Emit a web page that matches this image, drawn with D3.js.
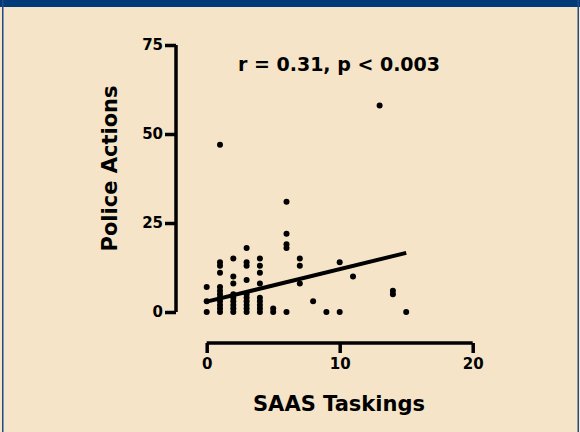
<!DOCTYPE html>
<html>
<head>
<meta charset="utf-8">
<script src="https://cdn.jsdelivr.net/npm/d3@7"></script>
<style>
  html, body { margin: 0; padding: 0; background: #F5E4C7; }
  svg { display: block; }
  text { font-family: "DejaVu Sans", "Liberation Sans", Arial, sans-serif; font-weight: bold; fill: #000; }
</style>
</head>
<body>
<div id="chart"></div>
<script>
// SAAS Taskings (x) vs Police Actions (y)
const taskings = [
  0, 0, 0,
  1, 1, 1, 1, 1, 1, 1, 1, 1, 1, 1, 1,
  2, 2, 2, 2, 2, 2, 2, 2, 2,
  3, 3, 3, 3, 3, 3, 3, 3, 3, 3,
  4, 4, 4, 4, 4, 4, 4, 4, 4,
  5, 5,
  6, 6, 6, 6, 6,
  7, 7, 7,
  8, 9, 10, 10, 11, 13, 14, 14, 15
];
const policeActions = [
  0, 3, 7,
  0, 1, 2, 3, 4, 5, 6, 7, 11, 13, 14, 47,
  0, 1, 2, 3, 4, 5, 8, 10, 15,
  0, 1, 2, 3, 4, 5, 9, 13, 14, 18,
  0, 1, 2, 3, 4, 8, 11, 13, 15,
  0, 1,
  0, 18, 19, 22, 31,
  8, 13, 15,
  3, 0, 0, 14, 10, 58, 5, 6, 0
];
// regression line end points (x, y)
const fitX = [0, 15];
const fitY = [2.9, 16.6];
const xTicks = [0, 10, 20];
const yTicks = [0, 25, 50, 75];
const xLabel = "SAAS Taskings";
const yLabel = "Police Actions";
const statsLabel = "r = 0.31, p < 0.003";

const W = 580, H = 432;
const FONT = "DejaVu Sans, Liberation Sans, Arial, sans-serif";
const svg = d3.select("#chart").append("svg").attr("width", W).attr("height", H);

svg.append("rect").attr("x", 0).attr("y", 0).attr("width", W).attr("height", H).attr("fill", "#F5E4C7");
// frame
svg.append("rect").attr("x", 0).attr("y", 0).attr("width", W).attr("height", 7).attr("fill", "#003A78");
svg.append("rect").attr("x", 2).attr("y", 0).attr("width", 1.5).attr("height", H).attr("fill", "#1F4A86");
svg.append("rect").attr("x", W - 2.5).attr("y", 0).attr("width", 1.5).attr("height", H).attr("fill", "#1F4A86");

const x = d3.scaleLinear().domain([0, 20]).range([206.7, 472.7]);
const y = d3.scaleLinear().domain([0, 75]).range([312, 45]);

// y axis
const yAxisG = svg.append("g").attr("transform", "translate(176,0)")
  .call(d3.axisLeft(y).tickValues(yTicks).tickSize(11).tickPadding(2).tickFormat(d3.format("d")));
yAxisG.select(".domain").attr("d", `M0,${y(0)}V${y(75)}`).attr("stroke", "#000").attr("stroke-width", 3.5);
yAxisG.selectAll(".tick line").attr("stroke", "#000").attr("stroke-width", 3.5);
yAxisG.selectAll(".tick text").attr("font-size", 15)
  .attr("font-family", FONT).attr("font-weight", "bold").attr("fill", "#000");

// x axis
const xAxisG = svg.append("g").attr("transform", "translate(0,343)")
  .call(d3.axisBottom(x).tickValues(xTicks).tickSize(10).tickPadding(5).tickFormat(d3.format("d")));
xAxisG.select(".domain").attr("d", `M${x(0)},0H${x(20)}`).attr("stroke", "#000").attr("stroke-width", 3.5);
xAxisG.selectAll(".tick line").attr("stroke", "#000").attr("stroke-width", 3.5);
xAxisG.selectAll(".tick text").attr("font-size", 15)
  .attr("font-family", FONT).attr("font-weight", "bold").attr("fill", "#000");

// points
svg.append("g").selectAll("circle")
  .data(taskings.map((t, i) => [t, policeActions[i]]))
  .join("circle")
  .attr("cx", d => x(d[0]))
  .attr("cy", d => y(d[1]))
  .attr("r", 3)
  .attr("fill", "#000");

// regression line
svg.append("line")
  .attr("x1", x(fitX[0])).attr("y1", y(fitY[0]))
  .attr("x2", x(fitX[1])).attr("y2", y(fitY[1]))
  .attr("stroke", "#000").attr("stroke-width", 4);

// labels
svg.append("text").attr("x", 339).attr("y", 71).attr("text-anchor", "middle")
  .attr("font-size", 19).text(statsLabel);
svg.append("text").attr("x", 339).attr("y", 411).attr("text-anchor", "middle")
  .attr("font-size", 21).text(xLabel);
svg.append("text").attr("transform", "translate(117,168.5) rotate(-90)").attr("text-anchor", "middle")
  .attr("font-size", 21).text(yLabel);
</script>
</body>
</html>
